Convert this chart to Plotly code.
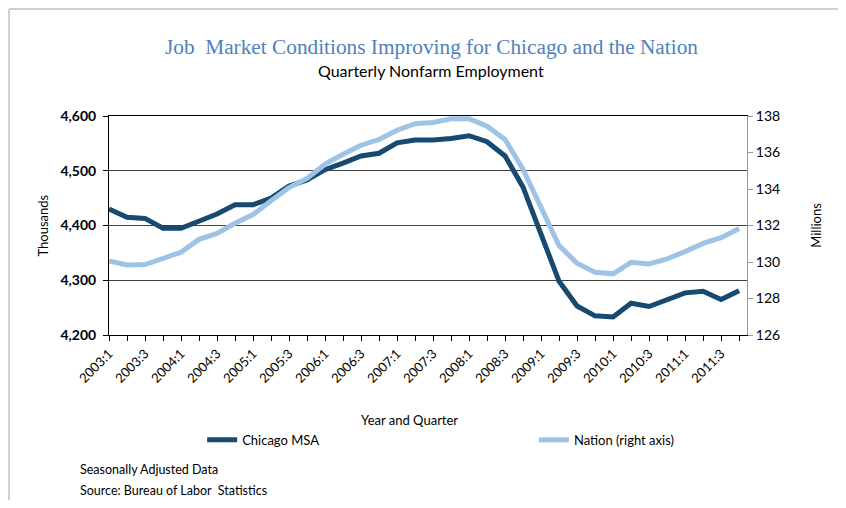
import plotly.graph_objects as go

# quarterly labels 2003:1 .. 2011:4
quarters = [f"{y}:{q}" for y in range(2003, 2012) for q in range(1, 5)]

# Chicago MSA nonfarm employment, thousands (left axis)
chicago = [4430, 4415, 4413, 4395, 4395, 4409, 4421, 4438, 4438, 4450,
           4472, 4483, 4502, 4514, 4527, 4532, 4551, 4556, 4556, 4559,
           4564, 4553, 4527, 4470, 4385, 4298, 4253, 4235, 4233, 4258,
           4252, 4265, 4277, 4280, 4265, 4281]

# Nation nonfarm employment, millions (right axis)
nation = [130.06, 129.84, 129.86, 130.17, 130.53, 131.24, 131.57, 132.12,
          132.60, 133.36, 134.08, 134.58, 135.36, 135.90, 136.40, 136.71,
          137.22, 137.58, 137.64, 137.85, 137.85, 137.44, 136.71, 135.07,
          132.95, 130.90, 129.93, 129.44, 129.35, 129.98, 129.89, 130.17,
          130.57, 131.02, 131.33, 131.84]

left_ticks = [4200, 4300, 4400, 4500, 4600]
right_ticks = [126, 128, 130, 132, 134, 136, 138]

idx = list(range(len(quarters)))
tick_text = [q if i % 2 == 0 else "" for i, q in enumerate(quarters)]

SANS = "Lato, 'Open Sans', sans-serif"
DARK = "#174A70"
LIGHT = "#9DC3E6"

fig = go.Figure()
fig.add_trace(go.Scatter(x=idx, y=chicago, mode="lines", name="Chicago MSA",
                         line=dict(color=DARK, width=5), yaxis="y",
                         legend="legend", showlegend=True))
fig.add_trace(go.Scatter(x=idx, y=nation, mode="lines", name="Nation (right axis)",
                         line=dict(color=LIGHT, width=5), yaxis="y2",
                         legend="legend2", showlegend=True))

leg = dict(orientation="h", yanchor="middle", xanchor="left", y=-0.479,
           font=dict(size=13), bgcolor="rgba(0,0,0,0)", visible=True)

# light grey chart frame: only its top and left edges are in view
frame = dict(type="line", xref="paper", yref="paper",
             line=dict(color="#d0d0d0", width=2), layer="below")

fig.update_layout(
    # the page body adds an 8px margin, so the figure is sized to fit without scrollbars
    width=830, height=492,
    showlegend=True,
    margin=dict(l=101, r=91, t=108, b=165),
    paper_bgcolor="white", plot_bgcolor="white",
    font=dict(family=SANS, size=13, color="#000"),
    xaxis=dict(range=[0, 35.44], tickvals=idx, ticktext=tick_text,
               tickangle=-45, ticks="outside", ticklen=5, tickcolor="#000",
               showline=True, linecolor="#000", linewidth=1, mirror=True,
               showgrid=False, zeroline=False, tickfont=dict(size=13)),
    yaxis=dict(range=[4200, 4600], tickvals=left_ticks,
               ticktext=[f"{v:,}" for v in left_ticks],
               ticks="outside", ticklen=5, tickcolor="#000",
               showline=True, linecolor="#000", linewidth=1,
               showgrid=True, gridcolor="#404040", gridwidth=1, zeroline=False,
               tickfont=dict(size=14, weight="bold"),
               ticklabelstandoff=4),
    yaxis2=dict(range=[126, 138], tickvals=right_ticks, overlaying="y",
                side="right", ticks="outside", ticklen=5, tickcolor="#999",
                showline=True, linecolor="#999", linewidth=1,
                showgrid=False, zeroline=False, tickfont=dict(size=14)),
    legend=dict(leg, x=0.146),
    legend2=dict(leg, x=0.666),
    shapes=[dict(frame, x0=-0.1567, x1=1.2, y0=1.4886, y1=1.4886),
            dict(frame, x0=-0.1567, x1=-0.1567, y0=-0.8, y1=1.4886)],
    annotations=[
        dict(text="Job  Market Conditions Improving for Chicago and the Nation",
             xref="paper", yref="paper", x=0.505, y=1.315, showarrow=False,
             font=dict(family="Liberation Serif, serif", size=21.3, color="#4F81BD"),
             xanchor="center", yanchor="middle"),
        dict(text="Quarterly Nonfarm Employment", xref="paper", yref="paper",
             x=0.505, y=1.21, showarrow=False, font=dict(size=16),
             xanchor="center", yanchor="middle"),
        dict(text="Thousands", xref="paper", yref="paper", x=-0.105, y=0.5,
             textangle=-90, showarrow=False, font=dict(size=13),
             xanchor="center", yanchor="middle"),
        dict(text="Millions", xref="paper", yref="paper", x=1.107, y=0.5,
             textangle=-90, showarrow=False, font=dict(size=13),
             xanchor="center", yanchor="middle"),
        dict(text="Year and Quarter", xref="paper", yref="paper", x=0.471, y=-0.39,
             showarrow=False, font=dict(size=13), xanchor="center", yanchor="middle"),
        dict(text="Seasonally Adjusted Data", xref="paper", yref="paper",
             x=-0.048, y=-0.615, showarrow=False, font=dict(size=12.5),
             xanchor="left", yanchor="middle"),
        dict(text="Source: Bureau of Labor  Statistics", xref="paper", yref="paper",
             x=-0.048, y=-0.71, showarrow=False, font=dict(size=12.5),
             xanchor="left", yanchor="middle"),
    ],
)

fig.write_html("out.html")
